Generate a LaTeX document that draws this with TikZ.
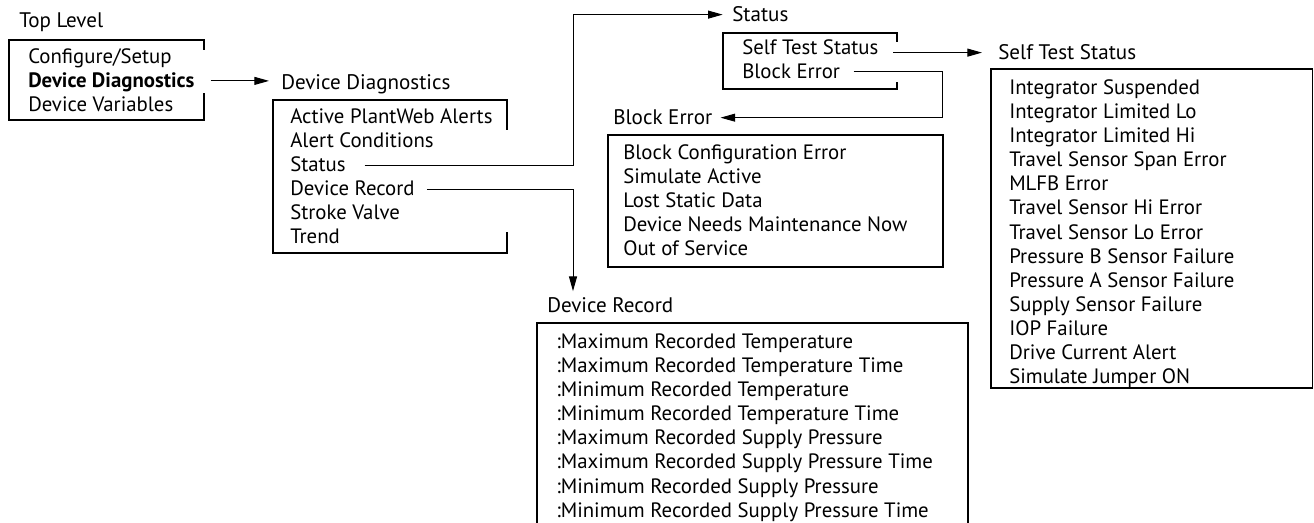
\documentclass[tikz,border=0pt]{standalone}
\usepackage{fontspec}
\setmainfont{PT Sans}
\usepackage{tikz}
\usetikzlibrary{
    arrows.meta,
    positioning
}

\begin{document}
\begin{tikzpicture}[
x=0.75pt, y=-0.75pt,
item/.style={
anchor=north west,
inner sep=0pt,
text height=13.7pt,
text depth=4pt,
font=\fontsize{15.6}{17}\selectfont
},
title/.style={
anchor=base west,
inner sep=0pt,
font=\fontsize{15.8}{18}\selectfont
},
frame/.style={draw, line width=0.8pt},
link/.style={line width=0.75pt},
arrow/.style={link, -{Triangle[length=11pt,width=6pt]}}
]

\useasboundingbox (0,0) rectangle (1314,523);

% menu titles
\node[title] (topt) at (19,28) {Top Level};
\node[title] (ddt) at (281,90) {Device Diagnostics};
\node[title] (stt) at (732,22) {Status};
\node[title] (bet) at (613,125) {Block Error};
\node[title] (stst) at (998,60) {Self Test Status};
\node[title] (drt) at (547,313) {Device Record};

% top level
\node[item] (top1) at (28,44.7) {Configure/Setup};
\node[item] (top2) at (top1.south west) {\textbf{Device Diagnostics}};
\node[item] (top3) at (top2.south west) {Device Variables};

% device diagnostics
\node[item] (dd1) at (290,104.7) {Active PlantWeb Alerts};
\node[item] (dd2) at (dd1.south west) {Alert Conditions};
\node[item] (dd3) at (dd2.south west) {Status};
\node[item] (dd4) at (dd3.south west) {Device Record};
\node[item] (dd5) at (dd4.south west) {Stroke Valve};
\node[item] (dd6) at (dd5.south west) {Trend};

% status
\node[item] (s1) at (742,35.7) {Self Test Status};
\node[item] (s2) at (s1.south west) {Block Error};

% block error
\node[item] (be1) at (623,140.7) {Block Configuration Error};
\node[item] (be2) at (be1.south west) {Simulate Active};
\node[item] (be3) at (be2.south west) {Lost Static Data};
\node[item] (be4) at (be3.south west) {Device Needs Maintenance Now};
\node[item] (be5) at (be4.south west) {Out of Service};

% self test status
\node[item] (sts1) at (1009,75.7) {Integrator Suspended};
\node[item] (sts2) at (sts1.south west) {Integrator Limited Lo};
\node[item] (sts3) at (sts2.south west) {Integrator Limited Hi};
\node[item] (sts4) at (sts3.south west) {Travel Sensor Span Error};
\node[item] (sts5) at (sts4.south west) {MLFB Error};
\node[item] (sts6) at (sts5.south west) {Travel Sensor Hi Error};
\node[item] (sts7) at (sts6.south west) {Travel Sensor Lo Error};
\node[item] (sts8) at (sts7.south west) {Pressure B Sensor Failure};
\node[item] (sts9) at (sts8.south west) {Pressure A Sensor Failure};
\node[item] (sts10) at (sts9.south west) {Supply Sensor Failure};
\node[item] (sts11) at (sts10.south west) {IOP Failure};
\node[item] (sts12) at (sts11.south west) {Drive Current Alert};
\node[item] (sts13) at (sts12.south west) {Simulate Jumper ON};

% device record
\node[item] (dr1) at (556,329.7) {:Maximum Recorded Temperature};
\node[item] (dr2) at (dr1.south west) {:Maximum Recorded Temperature Time};
\node[item] (dr3) at (dr2.south west) {:Minimum Recorded Temperature};
\node[item] (dr4) at (dr3.south west) {:Minimum Recorded Temperature Time};
\node[item] (dr5) at (dr4.south west) {:Maximum Recorded Supply Pressure};
\node[item] (dr6) at (dr5.south west) {:Maximum Recorded Supply Pressure Time};
\node[item] (dr7) at (dr6.south west) {:Minimum Recorded Supply Pressure};
\node[item] (dr8) at (dr7.south west) {:Minimum Recorded Supply Pressure Time};

% frames, open on the right where a link leaves
\draw[frame] (204,50) |- (9,40) |- (204,120) -- (204,93);
\draw[frame] (507,130) |- (273,100) |- (507,253) -- (507,232);
\draw[frame] (897,42) |- (723,33) |- (897,89) -- (897,82);
\draw[frame] (608,135) rectangle (943,267);
\draw[frame] (991,69) rectangle (1312.5,388);
\draw[frame] (537,524) |- (968,323) -- (968,524);

% links
\coordinate (ddjoin) at (573,0);
\coordinate (stjoin) at (942,0);

\draw[arrow, shorten <=12pt, shorten >=9pt]
(top2.east) -- (top2.east -| ddt.west);

\draw[arrow, shorten <=14pt, shorten >=7pt]
(dd3.east) -- (dd3.east -| ddjoin) |- (stt.west);

\draw[arrow, shorten <=9pt, shorten >=5pt]
(dd4.east) -- (dd4.east -| ddjoin) -- (ddjoin |- drt.north);

\draw[arrow, shorten <=11pt, shorten >=12pt]
(s1.east |- stst.west) -- (stst.west);

\draw[arrow, shorten <=10pt, shorten >=6pt]
(s2.east) -- (s2.east -| stjoin) |- (bet.east);

\end{tikzpicture}
\end{document}
